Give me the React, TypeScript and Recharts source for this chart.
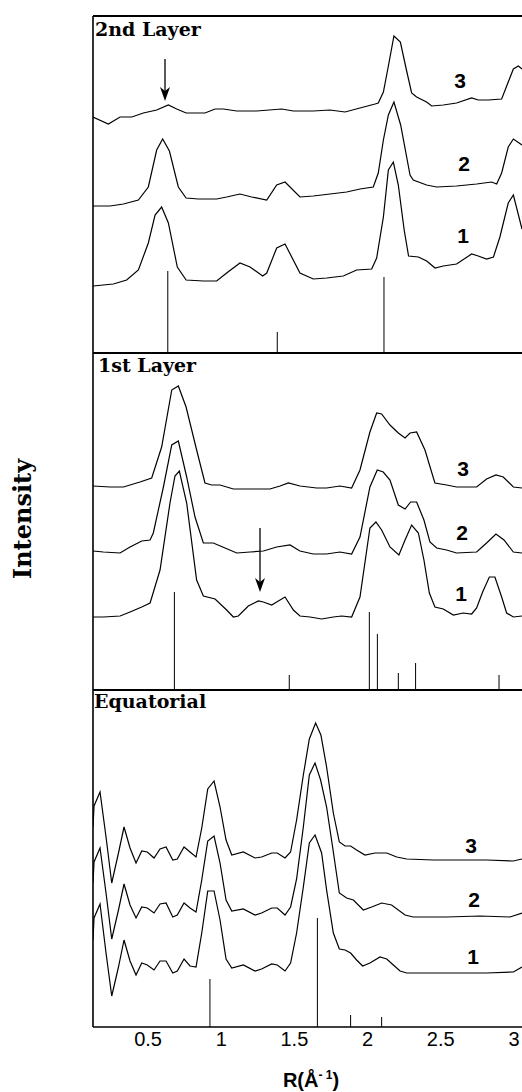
import { ComposedChart, Line, XAxis, YAxis, ReferenceLine } from 'recharts';

// x positions in R (1/Å), heights in arbitrary intensity units above each panel floor
const xTicks = [0.5, 1, 1.5, 2, 2.5, 3];

// 2nd layer line
const layer2Curve3 = [[0.124,236],[0.229,229],[0.309,236],[0.389,236],[0.468,240],[0.559,243],[0.639,248],[0.696,244],[0.760,240],[0.889,240],[0.958,244],[1.015,244],[1.106,242],[1.242,242],[1.413,244],[1.493,242],[1.629,242],[1.743,243],[1.846,241],[1.948,245],[2.051,249],[2.073,250],[2.108,261],[2.142,287],[2.180,317],[2.224,311],[2.267,282],[2.301,260],[2.335,256],[2.403,251],[2.438,247],[2.517,248],[2.608,250],[2.711,255],[2.756,253],[2.825,253],[2.916,254],[2.961,271],[2.996,284],[3.030,287],[3.055,284]];
const layer2Curve2 = [[0.124,147],[0.240,147],[0.332,149],[0.434,153],[0.502,166],[0.559,203],[0.600,214],[0.646,202],[0.707,166],[0.760,155],[0.844,154],[0.969,154],[1.037,156],[1.128,159],[1.208,156],[1.311,153],[1.379,168],[1.436,171],[1.538,156],[1.629,157],[1.743,159],[1.857,161],[1.948,164],[2.039,166],[2.073,180],[2.108,213],[2.142,238],[2.180,251],[2.226,228],[2.290,178],[2.312,173],[2.403,168],[2.472,166],[2.608,167],[2.745,169],[2.847,171],[2.882,169],[2.916,180],[2.961,206],[2.996,214],[3.055,208]];
const layer2Curve1 = [[0.124,67],[0.263,69],[0.354,73],[0.434,83],[0.502,110],[0.548,138],[0.593,146],[0.639,130],[0.700,86],[0.760,73],[0.878,72],[0.969,72],[1.037,80],[1.128,90],[1.197,86],[1.283,77],[1.311,80],[1.379,105],[1.436,109],[1.538,80],[1.629,74],[1.720,75],[1.834,77],[1.925,83],[2.028,84],[2.062,95],[2.108,136],[2.142,183],[2.176,191],[2.210,168],[2.250,123],[2.280,97],[2.347,96],[2.404,92],[2.461,85],[2.517,87],[2.608,89],[2.711,99],[2.756,97],[2.813,94],[2.860,96],[2.904,116],[2.961,150],[2.996,158],[3.055,124]];
const layer2Sticks = [[0.635,82],[1.383,21],[2.112,76]];

// 1st layer line
const layer1Curve3 = [[0.124,204],[0.240,203],[0.332,203],[0.445,208],[0.525,212],[0.593,243],[0.662,300],[0.707,304],[0.760,283],[0.832,240],[0.889,207],[0.935,205],[0.992,205],[1.083,201],[1.197,201],[1.333,201],[1.402,204],[1.459,207],[1.538,204],[1.652,202],[1.720,202],[1.811,204],[1.891,202],[1.948,220],[2.016,258],[2.062,277],[2.096,276],[2.153,265],[2.210,257],[2.256,252],[2.290,257],[2.335,258],[2.392,240],[2.460,207],[2.540,205],[2.608,203],[2.745,203],[2.813,211],[2.877,215],[2.927,213],[2.996,203],[3.055,202]];
const layer1Curve2 = [[0.124,139],[0.195,138],[0.309,137],[0.377,143],[0.457,149],[0.514,150],[0.536,157],[0.605,203],[0.662,245],[0.707,249],[0.764,213],[0.821,173],[0.878,147],[0.946,147],[1.026,142],[1.106,137],[1.197,138],[1.288,139],[1.379,143],[1.470,145],[1.538,139],[1.629,136],[1.720,136],[1.811,138],[1.891,136],[1.948,153],[2.016,203],[2.066,220],[2.107,218],[2.153,210],[2.210,185],[2.256,181],[2.294,188],[2.335,188],[2.385,170],[2.426,148],[2.472,142],[2.540,140],[2.608,137],[2.745,138],[2.813,147],[2.877,156],[2.932,150],[2.996,138],[3.055,137]];
const layer1Curve1 = [[0.124,73],[0.195,73],[0.309,74],[0.377,78],[0.457,83],[0.514,87],[0.582,120],[0.650,187],[0.684,214],[0.714,219],[0.764,187],[0.832,110],[0.878,94],[0.958,91],[1.037,80],[1.083,73],[1.117,74],[1.185,84],[1.254,89],[1.288,88],[1.345,85],[1.379,88],[1.436,93],[1.493,80],[1.538,74],[1.607,73],[1.686,71],[1.766,73],[1.823,74],[1.891,73],[1.948,93],[2.016,162],[2.057,168],[2.096,160],[2.153,143],[2.214,135],[2.256,150],[2.301,165],[2.347,157],[2.385,130],[2.422,97],[2.460,83],[2.517,81],[2.586,75],[2.654,77],[2.711,76],[2.745,82],[2.786,98],[2.832,113],[2.870,113],[2.916,93],[2.950,77],[2.996,73],[3.055,74]];
const layer1Sticks = [[0.680,98],[1.465,15],[2.012,78],[2.067,56],[2.210,17],[2.328,27],[2.898,15]];

// equatorial
const equatorCurve3 = [[0.124,200],[0.131,221],[0.172,235],[0.213,190],[0.252,144],[0.298,174],[0.336,200],[0.377,179],[0.418,164],[0.457,176],[0.495,175],[0.541,169],[0.582,178],[0.623,180],[0.669,167],[0.700,168],[0.746,180],[0.787,175],[0.828,170],[0.867,199],[0.908,238],[0.951,246],[0.992,220],[1.033,187],[1.072,172],[1.151,175],[1.231,169],[1.276,170],[1.345,174],[1.383,174],[1.436,169],[1.474,175],[1.515,207],[1.561,252],[1.602,288],[1.645,304],[1.681,292],[1.720,260],[1.766,214],[1.807,185],[1.846,181],[1.884,181],[1.925,177],[1.982,172],[2.051,174],[2.131,174],[2.199,170],[2.267,168],[2.449,167],[2.631,167],[2.813,167],[2.996,166],[3.055,168]];
const equatorCurve2 = [[0.124,144],[0.131,165],[0.172,179],[0.213,134],[0.252,88],[0.298,117],[0.336,143],[0.377,122],[0.418,109],[0.457,120],[0.495,119],[0.541,114],[0.582,123],[0.623,124],[0.669,110],[0.700,112],[0.746,124],[0.787,119],[0.828,115],[0.867,147],[0.908,186],[0.951,191],[0.992,164],[1.033,127],[1.072,116],[1.151,118],[1.231,112],[1.276,114],[1.345,119],[1.383,119],[1.436,112],[1.474,120],[1.515,148],[1.561,200],[1.602,252],[1.641,264],[1.679,247],[1.720,220],[1.761,180],[1.807,134],[1.857,129],[1.903,127],[1.971,117],[2.028,120],[2.096,124],[2.164,122],[2.256,112],[2.312,110],[2.540,110],[2.768,111],[2.973,110],[3.055,114]];
const equatorCurve1 = [[0.124,87],[0.131,109],[0.172,123],[0.213,74],[0.252,31],[0.298,60],[0.336,87],[0.377,66],[0.418,52],[0.457,64],[0.495,62],[0.541,57],[0.582,66],[0.623,66],[0.669,54],[0.700,56],[0.746,68],[0.787,61],[0.828,60],[0.867,94],[0.908,136],[0.951,136],[0.992,107],[1.033,68],[1.072,59],[1.151,62],[1.231,56],[1.276,58],[1.345,63],[1.383,62],[1.436,56],[1.474,64],[1.515,94],[1.561,140],[1.602,184],[1.641,192],[1.686,174],[1.720,137],[1.766,94],[1.807,78],[1.846,77],[1.884,74],[1.925,67],[1.966,61],[2.016,64],[2.085,70],[2.131,68],[2.176,62],[2.222,56],[2.267,54],[2.449,54],[2.631,54],[2.813,54],[2.996,55],[3.055,60]];
const equatorSticks = [[0.923,48],[1.657,109],[1.884,12],[2.096,10]];

// arrows: [x, tail height, tip height]
const layer2Arrow = [0.616, 294, 252];
const layer1Arrow = [1.265, 162, 98];

const W = 522;
const PANEL_H = 337;
const PLOT_LEFT = 93;
const PLOT_TOP = 16;
const X_DOMAIN = [0.124, 3.055];

const toPoints = (arr: number[][]) => arr.map(([x, y]) => ({ x, y }));

const Arrow = (p: any) => {
  const { x1, y1, x2, y2 } = p;
  return (
    <g>
      <line x1={x1} y1={y1} x2={x2} y2={y2 - 8} stroke="#000" strokeWidth={1.3} />
      <polygon points={`${x2},${y2} ${x2 - 5},${y2 - 14} ${x2},${y2 - 10} ${x2 + 5},${y2 - 14}`} fill="#000" />
    </g>
  );
};

function Panel({ top, curves, sticks, arrow, showAxis }: any) {
  const height = showAxis ? 2 + PANEL_H + 40 : 2 + PANEL_H + 2;
  return (
    <div style={{ position: 'absolute', left: 0, top: top - 2 }}>
      <ComposedChart width={W} height={height} margin={{ top: 2, right: 0, bottom: showAxis ? 0 : 2, left: PLOT_LEFT }}>
        <XAxis
          type="number"
          dataKey="x"
          domain={X_DOMAIN}
          ticks={xTicks}
          allowDataOverflow
          hide={!showAxis}
          height={40}
          axisLine={{ stroke: '#000', strokeWidth: 1.5 }}
          tickLine={false}
          tickSize={3}
          tickMargin={2}
          tick={{ fill: '#000', fontSize: 20, fontFamily: '"Liberation Sans", Arial, sans-serif' }}
        />
        <YAxis type="number" domain={[0, PANEL_H]} allowDataOverflow hide />
        {sticks.map(([x, h]: number[], i: number) => (
          <ReferenceLine key={`s${i}`} segment={[{ x, y: 0 }, { x, y: h }]} stroke="#000" strokeWidth={1} />
        ))}
        {arrow && (
          <ReferenceLine segment={[{ x: arrow[0], y: arrow[1] }, { x: arrow[0], y: arrow[2] }]} shape={Arrow} />
        )}
        {curves.map((c: number[][], i: number) => (
          <Line
            key={`c${i}`}
            data={toPoints(c)}
            dataKey="y"
            type="linear"
            stroke="#000"
            strokeWidth={1.2}
            dot={false}
            activeDot={false}
            isAnimationActive={false}
          />
        ))}
      </ComposedChart>
    </div>
  );
}

const serif = '"DejaVu Serif", serif';
const sans = '"Liberation Sans", Arial, sans-serif';

const traceLabels = [
  { t: '3', x: 460, y: 88 }, { t: '2', x: 464, y: 171 }, { t: '1', x: 463, y: 243 },
  { t: '3', x: 463, y: 476 }, { t: '2', x: 462, y: 540 }, { t: '1', x: 461, y: 601 },
  { t: '3', x: 471, y: 853 }, { t: '2', x: 474, y: 907 }, { t: '1', x: 473, y: 964 },
];

export default function App() {
  const bottom = PLOT_TOP + 3 * PANEL_H;
  return (
    <div style={{ position: 'absolute', left: 0, top: 0, width: W, height: 1092, background: '#fff', overflow: 'hidden' }}>
      <Panel top={PLOT_TOP} curves={[layer2Curve3, layer2Curve2, layer2Curve1]} sticks={layer2Sticks} arrow={layer2Arrow} />
      <Panel top={PLOT_TOP + PANEL_H} curves={[layer1Curve3, layer1Curve2, layer1Curve1]} sticks={layer1Sticks} arrow={layer1Arrow} />
      <Panel top={PLOT_TOP + 2 * PANEL_H} curves={[equatorCurve3, equatorCurve2, equatorCurve1]} sticks={equatorSticks} showAxis />
      <svg width={W} height={1092} style={{ position: 'absolute', left: 0, top: 0, pointerEvents: 'none' }}>
        {/* panel frame */}
        <line x1={PLOT_LEFT} y1={PLOT_TOP} x2={PLOT_LEFT} y2={bottom} stroke="#000" strokeWidth={1.6} />
        {[0, 1, 2].map((k) => (
          <line key={k} x1={PLOT_LEFT} y1={PLOT_TOP + k * PANEL_H} x2={W} y2={PLOT_TOP + k * PANEL_H} stroke="#000" strokeWidth={1.8} />
        ))}
        <text x={95} y={36} fontFamily={serif} fontWeight="bold" fontSize={19}>2nd Layer</text>
        <text x={98} y={372} fontFamily={serif} fontWeight="bold" fontSize={19}>1st Layer</text>
        <text x={94} y={708} fontFamily={serif} fontWeight="bold" fontSize={19}>Equatorial</text>
        {traceLabels.map((l, i) => (
          <text key={i} x={l.x} y={l.y} textAnchor="middle" fontFamily={sans} fontWeight="bold" fontSize={21}>{l.t}</text>
        ))}
        <text x={31} y={519} transform="rotate(-90 31 519)" textAnchor="middle" fontFamily={serif} fontWeight="bold" fontSize={24}>Intensity</text>
        <text x={311} y={1087} textAnchor="middle" fontFamily={sans} fontWeight="bold" fontSize={20}>
          R(Å<tspan dy={-8} fontSize={12}>- 1</tspan><tspan dy={8}>)</tspan>
        </text>
      </svg>
    </div>
  );
}
